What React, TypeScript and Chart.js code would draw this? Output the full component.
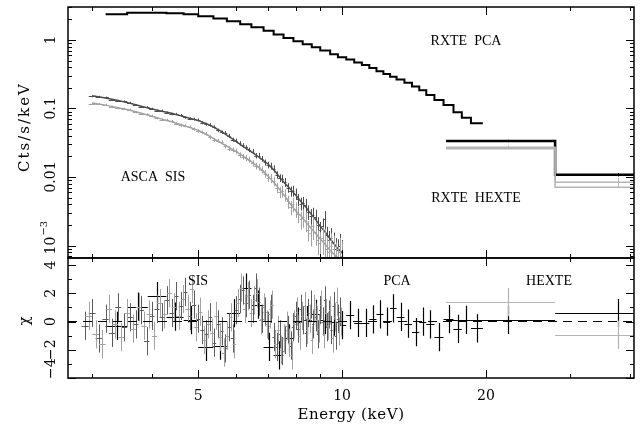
import React, { useEffect, useRef } from 'react';
import { Chart, registerables } from 'chart.js';

Chart.register(...registerables);

// ---------- axis ranges & ticks ----------
const X_MIN = 2.67;
const X_MAX = 40.8;
const RATE_MIN = 6.57e-4;
const RATE_MAX = 3.03;
const CHI_MIN = -4;
const CHI_MAX = 4.5;

const xTickValues = [3, 4, 5, 6, 7, 8, 9, 10, 20, 30, 40];
const xTickLabels = ['', '', '5', '', '', '', '', '10', '20', '', ''];
const rateMajorTicks = [1, 0.1, 0.01, 0.001];
const rateTickLabels = ['1', '0.1', '0.01', '10^−3'];
const chiMajorTicks = [4, 2, 0, -2, -4];
const chiTickLabels = ['4', '2', '0', '−2', '−4'];
const chiMinorTicks = [3, 1, -1, -3];

// ---------- RXTE PCA ----------
const pcaEdges = [3.2, 3.55, 3.92, 4.29, 4.66, 5.0, 5.38, 5.74, 6.12, 6.46, 6.85, 7.19, 7.54, 7.91, 8.27, 8.64, 9.0, 9.44, 9.8, 10.2, 10.6, 11.0, 11.4, 11.8, 12.2, 12.6, 13.0, 13.5, 14.0, 14.5, 15.0, 15.6, 16.3, 17.1, 17.8, 18.6, 19.7];
const pcaRate = [2.38, 2.5, 2.5, 2.45, 2.38, 2.22, 2.05, 1.88, 1.7, 1.53, 1.36, 1.2, 1.07, 0.96, 0.87, 0.78, 0.7, 0.62, 0.56, 0.52, 0.47, 0.43, 0.39, 0.35, 0.32, 0.29, 0.265, 0.238, 0.21, 0.185, 0.157, 0.133, 0.112, 0.088, 0.073, 0.061];
const pcaChi = [-0.3, 1.05, 1.8, 0.35, 0.1, -1.8, -1.7, 0.6, 2.4, 1.2, -1.8, -2.4, -1.2, 0.0, 0.1, 0.55, 0.1, 0.0, -0.25, 0.45, -0.1, -0.1, 0.15, 0.5, 0.0, 0.93, 0.33, -0.15, -0.75, 0.0, -0.2, -1.1, 0.17, -0.52, 0.12, -0.48];

// ---------- RXTE HEXTE ----------
const hexteEdges = [16.5, 27.9, 40.8];
const hexteCenters = [22.2, 37.8];
const hexteRateA = [0.0336, 0.0108];
const hexteRateB = [0.0272, 0.0084];
const hexteRateC = [0.0259, 0.0071];
const hexteErrA = [0.04, 0.06];
const hexteErrB = [0.06, 0.14];
const hexteChiA = [0.12, 0.6];
const hexteChiB = [1.38, -0.95];

// ---------- ASCA SIS models ----------
const sisModelE = [3.0, 3.2, 3.4, 3.6, 3.8, 4.0, 4.2, 4.4, 4.6, 4.8, 5.0, 5.2, 5.4, 5.6, 5.8, 6.0, 6.2, 6.4, 6.6, 6.8, 7.0, 7.2, 7.4, 7.6, 7.8, 8.0, 8.2, 8.4, 8.6, 8.8, 9.0, 9.2, 9.4, 9.6, 9.8, 10.0];
const sis0Model = [0.153, 0.142, 0.131, 0.119, 0.108, 0.098, 0.091, 0.085, 0.078, 0.072, 0.067, 0.06, 0.053, 0.046, 0.039, 0.033, 0.028, 0.0245, 0.021, 0.018, 0.0155, 0.0126, 0.01, 0.008, 0.0066, 0.0054, 0.0044, 0.0036, 0.0029, 0.0024, 0.0019, 0.0016, 0.0013, 0.00108, 0.0009, 0.00078];
const sis1Model = [0.12, 0.112, 0.103, 0.094, 0.085, 0.077, 0.07, 0.064, 0.058, 0.053, 0.048, 0.042, 0.036, 0.031, 0.027, 0.0235, 0.0203, 0.0175, 0.015, 0.0125, 0.0103, 0.0083, 0.0066, 0.0052, 0.004, 0.0032, 0.0027, 0.0022, 0.0018, 0.0015, 0.00125, 0.00105, 0.00088, 0.00075, 0.00066, 0.00058];

// ---------- ASCA SIS spectra ----------
const sisE = [3.0, 3.1, 3.2, 3.3, 3.4, 3.5, 3.6, 3.7, 3.8, 3.9, 4.0, 4.1, 4.2, 4.3, 4.4, 4.5, 4.6, 4.7, 4.8, 4.9, 5.0, 5.1, 5.2, 5.3, 5.4, 5.5, 5.6, 5.7, 5.8, 5.9, 6.0, 6.1, 6.2, 6.3, 6.4, 6.5, 6.6, 6.7, 6.8, 6.9, 7.0, 7.1, 7.2, 7.3, 7.4, 7.5, 7.6, 7.7, 7.8, 7.9, 8.0, 8.1, 8.2, 8.3, 8.4, 8.5, 8.6, 8.7, 8.8, 8.9, 9.0, 9.1, 9.2, 9.3, 9.4, 9.5, 9.6, 9.7, 9.8, 9.9, 10.0];
const sis0Rate = [0.15, 0.149, 0.145, 0.134, 0.129, 0.127, 0.121, 0.112, 0.106, 0.105, 0.099, 0.093, 0.093, 0.087, 0.083, 0.083, 0.08, 0.074, 0.071, 0.07, 0.068, 0.062, 0.059, 0.058, 0.054, 0.048, 0.045, 0.044, 0.04, 0.035, 0.034, 0.031, 0.029, 0.027, 0.025, 0.0235, 0.0205, 0.0205, 0.0185, 0.0163, 0.015, 0.0145, 0.0132, 0.0108, 0.0097, 0.0095, 0.0084, 0.007, 0.0062, 0.0063, 0.0057, 0.0047, 0.0041, 0.0042, 0.0039, 0.0031, 0.0027, 0.0028, 0.0026, 0.002, 0.0017, 0.0019, 0.0024, 0.0014, 0.0012, 0.0013, 0.0011, 0.0009, 0.00085, 0.001, 0.0008];
const sis0Err = [0.03, 0.03, 0.03, 0.03, 0.03, 0.03, 0.03, 0.03, 0.03, 0.03, 0.035, 0.035, 0.035, 0.04, 0.04, 0.04, 0.04, 0.045, 0.045, 0.045, 0.05, 0.05, 0.05, 0.055, 0.055, 0.06, 0.06, 0.065, 0.065, 0.07, 0.07, 0.075, 0.075, 0.08, 0.08, 0.085, 0.09, 0.095, 0.1, 0.1, 0.11, 0.115, 0.12, 0.125, 0.13, 0.14, 0.15, 0.16, 0.17, 0.18, 0.19, 0.2, 0.21, 0.22, 0.23, 0.24, 0.26, 0.27, 0.28, 0.29, 0.3, 0.31, 0.33, 0.34, 0.36, 0.38, 0.4, 0.42, 0.45, 0.48, 0.5];
const sis1Rate = [0.118, 0.116, 0.114, 0.106, 0.101, 0.099, 0.096, 0.088, 0.083, 0.082, 0.078, 0.072, 0.069, 0.068, 0.065, 0.06, 0.057, 0.056, 0.054, 0.05, 0.047, 0.045, 0.043, 0.038, 0.035, 0.034, 0.032, 0.028, 0.026, 0.025, 0.024, 0.021, 0.0198, 0.019, 0.018, 0.0158, 0.0145, 0.014, 0.0128, 0.0112, 0.0098, 0.0096, 0.0087, 0.007, 0.006, 0.0062, 0.0055, 0.0044, 0.0036, 0.004, 0.0034, 0.0029, 0.0024, 0.0026, 0.0023, 0.0017, 0.0015, 0.0019, 0.0016, 0.0012, 0.0011, 0.0013, 0.0012, 0.0009, 0.0008, 0.001, 0.0009, 0.0007, 0.0006, 0.0008, 0.0007];
const sis1Err = [0.035, 0.035, 0.035, 0.035, 0.035, 0.035, 0.035, 0.035, 0.035, 0.035, 0.04, 0.04, 0.04, 0.045, 0.045, 0.045, 0.05, 0.05, 0.05, 0.055, 0.055, 0.06, 0.06, 0.065, 0.065, 0.07, 0.07, 0.075, 0.08, 0.08, 0.085, 0.09, 0.095, 0.1, 0.1, 0.11, 0.11, 0.12, 0.12, 0.13, 0.14, 0.15, 0.16, 0.17, 0.18, 0.19, 0.2, 0.22, 0.23, 0.24, 0.26, 0.27, 0.29, 0.3, 0.32, 0.33, 0.35, 0.37, 0.38, 0.4, 0.42, 0.44, 0.46, 0.48, 0.5, 0.52, 0.55, 0.58, 0.6, 0.62, 0.64];
const SIS_HALF_BIN = 0.05;

// ---------- ASCA SIS residuals ----------
const sis0ResE = [2.9, 3.0, 3.1, 3.2, 3.3, 3.4, 3.5, 3.6, 3.7, 3.8, 3.9, 4.0, 4.1, 4.2, 4.3, 4.4, 4.5, 4.6, 4.7, 4.8, 4.9, 5.0, 5.1, 5.2, 5.3, 5.4, 5.5, 5.6, 5.7, 5.8, 5.9, 6.0, 6.1, 6.2, 6.3, 6.4, 6.5, 6.6, 6.7, 6.8, 6.9, 7.0, 7.1, 7.2, 7.3, 7.4, 7.5, 7.6, 7.7, 7.8, 7.9, 8.0, 8.1, 8.2, 8.3, 8.4, 8.5, 8.6, 8.7, 8.8, 8.9, 9.0, 9.1, 9.2, 9.3, 9.4, 9.5, 9.6, 9.7, 9.8, 9.9];
const sis0Chi = [-0.3, 0.6, -1.2, 0.2, -0.8, 1.0, -0.4, 0.3, -0.2, 0.8, -1.4, 0.4, 0.9, 0.3, 1.5, 0.6, 1.8, 1.1, 2.1, 0.4, 1.2, 0.2, -0.6, -0.9, 0.3, -1.5, -0.2, -0.7, -1.9, -0.4, -1.2, 0.8, 1.6, 2.2, 1.3, 1.9, 0.9, 2.4, 1.4, 0.2, 0.7, -0.3, 0.9, -1.1, -1.8, -0.9, -2.1, -1.3, -0.6, -1.7, -0.4, 0.4, -0.5, 0.9, 0.1, -0.8, 0.6, 1.2, -0.2, 0.3, -0.9, 0.8, 0.0, 1.5, -0.4, 0.5, -0.6, 1.1, -1.0, 0.2, 0.7];
const sis1ResE = [2.95, 3.05, 3.15, 3.25, 3.35, 3.45, 3.55, 3.65, 3.75, 3.85, 3.95, 4.05, 4.15, 4.25, 4.35, 4.45, 4.55, 4.65, 4.75, 4.85, 4.95, 5.05, 5.15, 5.25, 5.35, 5.45, 5.55, 5.65, 5.75, 5.85, 5.95, 6.05, 6.15, 6.25, 6.35, 6.45, 6.55, 6.65, 6.75, 6.85, 6.95, 7.05, 7.15, 7.25, 7.35, 7.45, 7.55, 7.65, 7.75, 7.85, 7.95, 8.05, 8.15, 8.25, 8.35, 8.45, 8.55, 8.65, 8.75, 8.85, 8.95, 9.05, 9.15, 9.25, 9.35, 9.45, 9.55, 9.65, 9.75, 9.85, 9.95];
const sis1Chi = [0.4, -0.9, -1.6, 0.9, -0.2, -1.1, 0.6, -0.5, 1.0, -0.3, 0.5, -1.0, 1.3, 0.5, 2.0, 1.0, 0.4, 1.6, 0.9, 2.3, -0.4, 0.7, -1.3, -0.2, -0.8, 0.4, -1.1, -2.2, -1.0, 0.3, -1.6, 1.3, 2.4, 0.9, 1.8, 0.6, 1.5, 2.0, 0.1, 1.0, -0.2, 0.5, 1.2, -1.6, -0.6, -2.0, -1.2, -0.3, -1.5, -2.4, -0.2, 0.7, -1.0, 0.4, 1.1, -0.6, 0.2, -1.3, 0.9, 0.1, -0.5, 1.2, -0.9, 0.6, -0.3, 0.8, -1.2, 0.3, 1.4, -0.7, 0.0];
const SIS_RES_HALF = 0.05;

// ---------- annotations (pixel anchors) ----------
const topTexts = [
  { text: 'RXTE  PCA', x: 466, y: 41 },
  { text: 'ASCA  SIS', x: 153, y: 177 },
  { text: 'RXTE  HEXTE', x: 476, y: 198 },
];
const bottomTexts = [
  { text: 'SIS', x: 198, y: 281 },
  { text: 'PCA', x: 397, y: 281 },
  { text: 'HEXTE', x: 549, y: 281 },
];

const SERIF = '"DejaVu Serif", serif';
const TIMES = '"Liberation Serif", serif';

const DARK = '#4d4d4d';
const DARK_RES = '#5c5c5c';
const LIGHT = '#a2a2a2';
const HEX_GRAY = '#b4b4b4';

function stepPoints(edges: number[], vals: number[]) {
  const pts = vals.map((v, i) => ({ x: edges[i], y: v }));
  pts.push({ x: edges[edges.length - 1], y: vals[vals.length - 1] });
  return pts;
}

function rotText(ctx: CanvasRenderingContext2D, text: string, x: number, y: number) {
  ctx.save();
  ctx.translate(x, y);
  ctx.rotate(-Math.PI / 2);
  ctx.textAlign = 'center';
  ctx.textBaseline = 'middle';
  ctx.fillText(text, 0, 0);
  ctx.restore();
}

const errorBarPlugin = {
  id: 'errorBars',
  afterDatasetDraw(chart: any, args: any) {
    const ds = chart.data.datasets[args.index];
    if (!ds.errorBars) return;
    const { ctx, chartArea: a } = chart;
    const xs = chart.scales.x;
    const ys = chart.scales.y;
    ctx.save();
    ctx.beginPath();
    ctx.rect(a.left, a.top, a.right - a.left, a.bottom - a.top);
    ctx.clip();
    ctx.strokeStyle = ds.borderColor;
    ctx.lineWidth = ds.errorWidth || 1;
    ctx.beginPath();
    for (const p of ds.data) {
      const px = Math.round(xs.getPixelForValue(p.x)) + 0.5;
      const py = Math.round(ys.getPixelForValue(p.y)) + 0.5;
      ctx.moveTo(xs.getPixelForValue(p.xMin), py);
      ctx.lineTo(xs.getPixelForValue(p.xMax), py);
      ctx.moveTo(px, ys.getPixelForValue(p.yMin));
      ctx.lineTo(px, ys.getPixelForValue(p.yMax));
    }
    ctx.stroke();
    ctx.restore();
  },
};

const decoPlugin = {
  id: 'deco',
  afterDraw(chart: any, _args: any, o: any) {
    const { ctx, chartArea: a } = chart;
    const xs = chart.scales.x;
    const ys = chart.scales.y;
    ctx.save();
    ctx.strokeStyle = '#000';
    ctx.fillStyle = '#000';
    ctx.lineWidth = 1;
    ctx.beginPath();
    xTickValues.forEach((v, i) => {
      const px = Math.round(xs.getPixelForValue(v)) + 0.5;
      const len = xTickLabels[i] ? 8 : 4;
      ctx.moveTo(px, a.bottom);
      ctx.lineTo(px, a.bottom - len);
      ctx.moveTo(px, a.top);
      ctx.lineTo(px, a.top + len);
    });
    const yTick = (v: number, len: number) => {
      const py = Math.round(ys.getPixelForValue(v)) + 0.5;
      if (py < a.top - 0.5 || py > a.bottom + 0.5) return;
      ctx.moveTo(a.left, py);
      ctx.lineTo(a.left + len, py);
      ctx.moveTo(a.right, py);
      ctx.lineTo(a.right - len, py);
    };
    o.yMajor.forEach((v: number) => yTick(v, 8));
    o.yMinor.forEach((v: number) => yTick(v, 4));
    ctx.stroke();
    ctx.lineWidth = 1.5;
    ctx.strokeRect(a.left, a.top, a.right - a.left, a.bottom - a.top);

    // y tick labels (rotated)
    ctx.font = `14px ${SERIF}`;
    o.yMajor.forEach((v: number, i: number) => {
      const lab: string = o.yLabels[i];
      let py = ys.getPixelForValue(v);
      if (lab.includes('^')) {
        const [base, sup] = lab.split('^');
        ctx.font = `14px ${SERIF}`;
        const wb = ctx.measureText(base).width;
        ctx.save();
        ctx.translate(51, py);
        ctx.rotate(-Math.PI / 2);
        ctx.textBaseline = 'middle';
        ctx.textAlign = 'left';
        ctx.fillText(base, -wb / 2, 0);
        ctx.font = `10px ${SERIF}`;
        ctx.fillText(sup, wb / 2 + 1, -7);
        ctx.restore();
        ctx.font = `14px ${SERIF}`;
        return;
      }
      const half = ctx.measureText(lab).width / 2;
      py = Math.min(Math.max(py, a.top + half - 4), a.bottom - half + 1);
      rotText(ctx, lab, 51, py);
    });

    // y title
    ctx.font = `15px ${SERIF}`;
    (ctx as any).letterSpacing = o.titleSpacing || '0px';
    rotText(ctx, o.yTitle, 25, o.yTitleY);
    (ctx as any).letterSpacing = '0px';

    if (o.xLabels) {
      ctx.font = `14px ${SERIF}`;
      ctx.textAlign = 'center';
      ctx.textBaseline = 'middle';
      xTickValues.forEach((v, i) => {
        if (!xTickLabels[i]) return;
        ctx.fillText(xTickLabels[i], xs.getPixelForValue(v), 396);
      });
      ctx.font = `15px ${SERIF}`;
      (ctx as any).letterSpacing = '0.6px';
      ctx.fillText('Energy (keV)', (a.left + a.right) / 2, 415);
      (ctx as any).letterSpacing = '0px';
    }

    ctx.font = `14px ${TIMES}`;
    ctx.textAlign = 'center';
    ctx.textBaseline = 'middle';
    o.texts.forEach((t: any) => ctx.fillText(t.text, t.x, t.y));
    ctx.restore();
  },
};

function rateMinorTicks(): number[] {
  const out: number[] = [];
  [1e-4, 1e-3, 1e-2, 1e-1, 1].forEach((d) => {
    for (let k = 2; k <= 9; k++) {
      const v = k * d;
      if (v > RATE_MIN && v < RATE_MAX) out.push(v);
    }
  });
  return out;
}

export default function App() {
  const topRef = useRef<HTMLCanvasElement>(null);
  const botRef = useRef<HTMLCanvasElement>(null);

  useEffect(() => {
    const sisData = (E: number[], R: number[], Err: number[]) =>
      E.map((e, i) => ({ x: e, y: R[i], xMin: e - SIS_HALF_BIN, xMax: e + SIS_HALF_BIN, yMin: R[i] * (1 - Err[i]), yMax: R[i] * (1 + Err[i]) }));
    const hexData = (R: number[], Err: number[]) =>
      hexteCenters.map((c, i) => ({ x: c, y: R[i], xMin: c, xMax: c, yMin: R[i] * (1 - Err[i]), yMax: R[i] * (1 + Err[i]) }));

    const common = (padding: any, deco: any, yScale: any) => ({
      responsive: false,
      animation: false,
      events: [],
      layout: { padding },
      elements: { point: { radius: 0 } },
      plugins: { legend: { display: false }, tooltip: { enabled: false }, deco },
      scales: {
        x: { type: 'logarithmic', min: X_MIN, max: X_MAX, display: false },
        y: yScale,
      },
    });

    const top = new Chart(topRef.current!, {
      type: 'line',
      data: {
        datasets: [
          { data: sisData(sisE, sis1Rate, sis1Err), borderColor: LIGHT, showLine: false, errorBars: true, errorWidth: 1 } as any,
          { data: sisModelE.map((e, i) => ({ x: e, y: sis1Model[i] })), borderColor: LIGHT, borderWidth: 1.5 } as any,
          { data: sisData(sisE, sis0Rate, sis0Err), borderColor: DARK, showLine: false, errorBars: true, errorWidth: 1 } as any,
          { data: sisModelE.map((e, i) => ({ x: e, y: sis0Model[i] })), borderColor: DARK, borderWidth: 1.5 } as any,
          { data: stepPoints(pcaEdges, pcaRate), borderColor: '#000', borderWidth: 2, stepped: true } as any,
          { data: stepPoints(hexteEdges, hexteRateC), borderColor: HEX_GRAY, borderWidth: 1.5, stepped: true } as any,
          { data: stepPoints(hexteEdges, hexteRateB), borderColor: HEX_GRAY, borderWidth: 1.5, stepped: true } as any,
          { data: hexData(hexteRateB, hexteErrB), borderColor: HEX_GRAY, showLine: false, errorBars: true, errorWidth: 1 } as any,
          { data: stepPoints(hexteEdges, hexteRateA), borderColor: '#000', borderWidth: 2.5, stepped: true } as any,
          { data: hexData(hexteRateA, hexteErrA), borderColor: '#000', showLine: false, errorBars: true, errorWidth: 1 } as any,
        ],
      },
      options: common(
        { left: 68, right: 8, top: 7, bottom: 427 - 258 },
        { yMajor: rateMajorTicks, yMinor: rateMinorTicks(), yLabels: rateTickLabels, yTitle: 'Cts/s/keV', yTitleY: 127, titleSpacing: '2px', xLabels: false, texts: topTexts },
        { type: 'logarithmic', min: RATE_MIN, max: RATE_MAX, display: false }
      ) as any,
      plugins: [errorBarPlugin, decoPlugin],
    });

    const resData = (E: number[], C: number[], half: number) =>
      E.map((e, i) => ({ x: e, y: C[i], xMin: e - half, xMax: e + half, yMin: C[i] - 1, yMax: C[i] + 1 }));
    const pcaRes = pcaChi.map((c, i) => {
      const lo = pcaEdges[i];
      const hi = pcaEdges[i + 1];
      return { x: (lo + hi) / 2, y: c, xMin: lo, xMax: hi, yMin: c - 1, yMax: c + 1 };
    });
    const hexRes = (C: number[]) =>
      C.map((c, i) => ({ x: hexteCenters[i], y: c, xMin: hexteEdges[i], xMax: hexteEdges[i + 1], yMin: c - 1, yMax: c + 1 }));

    const bottom = new Chart(botRef.current!, {
      type: 'line',
      data: {
        datasets: [
          { data: [{ x: X_MIN, y: 0 }, { x: X_MAX, y: 0 }], borderColor: '#000', borderWidth: 1, borderDash: [9, 6] } as any,
          { data: resData(sis1ResE, sis1Chi, SIS_RES_HALF), borderColor: LIGHT, showLine: false, errorBars: true, errorWidth: 1 } as any,
          { data: resData(sis0ResE, sis0Chi, SIS_RES_HALF), borderColor: DARK_RES, showLine: false, errorBars: true, errorWidth: 1 } as any,
          { data: pcaRes, borderColor: '#000', showLine: false, errorBars: true, errorWidth: 1.2 } as any,
          { data: hexRes(hexteChiB), borderColor: HEX_GRAY, showLine: false, errorBars: true, errorWidth: 1.2 } as any,
          { data: hexRes(hexteChiA), borderColor: '#000', showLine: false, errorBars: true, errorWidth: 1.2 } as any,
        ],
      },
      options: common(
        { left: 68, right: 8, top: 258, bottom: 427 - 378 },
        { yMajor: chiMajorTicks, yMinor: chiMinorTicks, yLabels: chiTickLabels, yTitle: 'χ', yTitleY: 321, xLabels: true, texts: bottomTexts },
        { type: 'linear', min: CHI_MIN, max: CHI_MAX, display: false }
      ) as any,
      plugins: [errorBarPlugin, decoPlugin],
    });

    return () => {
      top.destroy();
      bottom.destroy();
    };
  }, []);

  return (
    <div style={{ position: 'fixed', left: 0, top: 0, width: 642, height: 427, background: '#fff' }}>
      <canvas ref={topRef} width={642} height={427} style={{ position: 'absolute', left: 0, top: 0 }} />
      <canvas ref={botRef} width={642} height={427} style={{ position: 'absolute', left: 0, top: 0 }} />
    </div>
  );
}
